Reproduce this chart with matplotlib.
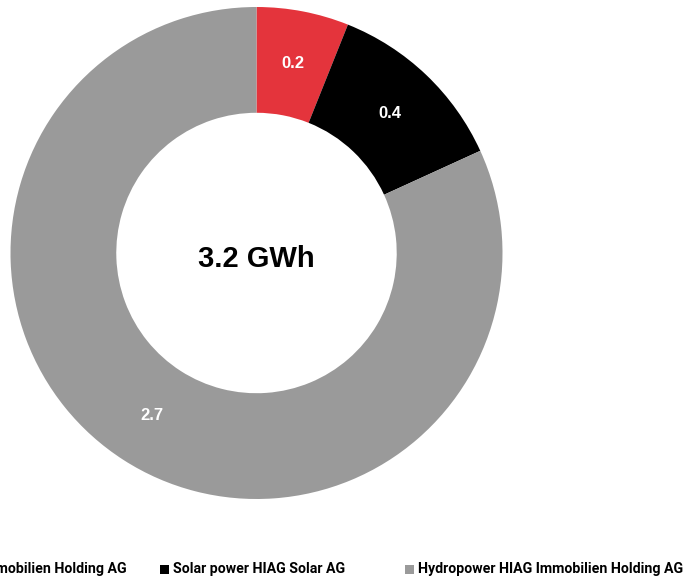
import matplotlib
matplotlib.use("Agg")
import matplotlib.pyplot as plt
from matplotlib.patches import Rectangle
import numpy as np

# Electricity production by source (GWh)
sources = [
    "Solar power HIAG Immobilien Holding AG",
    "Solar power HIAG Solar AG",
    "Hydropower HIAG Immobilien Holding AG",
]
values = [0.2, 0.4, 2.7]
value_labels = ["0.2", "0.4", "2.7"]
total_label = "3.2 GWh"
colors = ["#E4343C", "#000000", "#9A9A9A"]

W, H = 687, 582
fig = plt.figure(figsize=(W / 100, H / 100), dpi=100)
fig.patch.set_facecolor("white")

FONT = "Liberation Sans"
LEGEND_FONT = "Roboto"

# Donut placement in pixels
cx, cy, r = 256.5, 582 - 253, 246
ax = fig.add_axes([(cx - r) / W, (cy - r) / H, 2 * r / W, 2 * r / H])
ring = 0.43
wedges, _ = ax.pie(values, colors=colors, startangle=90, counterclock=False,
                   radius=1.0, wedgeprops=dict(width=ring, linewidth=0))
ax.set_xlim(-1, 1)
ax.set_ylim(-1, 1)
ax.set_aspect("equal")
ax.axis("off")

label_r = 1 - ring / 2
for w, lab in zip(wedges, value_labels):
    ang = np.deg2rad((w.theta1 + w.theta2) / 2)
    ax.text(label_r * np.cos(ang), label_r * np.sin(ang), lab,
            ha="center", va="center", color="white", fontsize=12,
            fontweight="bold", family=FONT)

ax.text(0, -0.025, total_label, ha="center", va="center", fontsize=21,
        fontweight="bold", family=FONT, color="black")

# Legend row along the bottom
ly = 13 / H
sq = 9
entries = [
    (-150, sources[0], colors[0]),
    (160, sources[1], colors[1]),
    (405, sources[2], colors[2]),
]
for x0, txt, col in entries:
    fig.patches.append(Rectangle((x0 / W, (13 - sq / 2) / H), sq / W, sq / H,
                                 transform=fig.transFigure, facecolor=col,
                                 edgecolor="none"))
    fig.text((x0 + sq + 4) / W, ly, txt, ha="left", va="center",
             fontsize=10.2, fontweight="bold", family=LEGEND_FONT,
             color="black")

fig.savefig("out.png", dpi=100, facecolor="white")
